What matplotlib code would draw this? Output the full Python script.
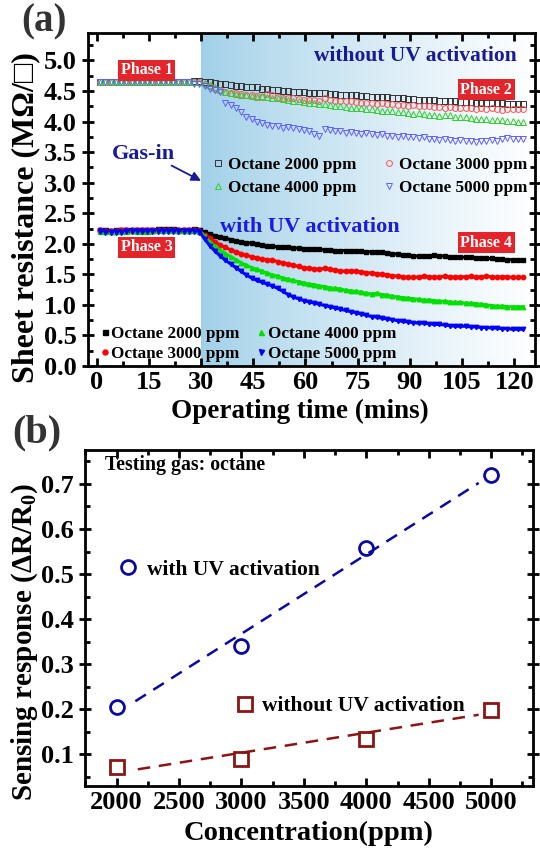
import numpy as np
import matplotlib
matplotlib.use("Agg")
from matplotlib import pyplot as plt
from matplotlib.colors import LinearSegmentedColormap
from matplotlib.lines import Line2D
from matplotlib.ticker import MultipleLocator, FormatStrFormatter

plt.rcParams['font.family'] = ['Liberation Serif', 'DejaVu Serif']
plt.rcParams['font.weight'] = 'bold'
plt.rcParams['mathtext.fontset'] = 'custom'
plt.rcParams['mathtext.rm'] = 'Liberation Serif:bold'

#
# Data
#

# (a) sheet resistance vs time, gas goes in at 30 min
time_pre = [1, 2.5, 4, 5.5, 7, 8.5, 10, 11.5, 13, 14.5,
            16, 17.5, 19, 20.5, 22, 23.5, 25, 26.5, 28, 29.5]
time_post = [31, 32.5, 34, 35.5, 37, 38.5, 40, 41.5, 43, 44.5,
             46, 47.5, 49, 50.5, 52, 53.5, 55, 56.5, 58, 59.5,
             61, 62.5, 64, 65.5, 67, 68.5, 70, 71.5, 73, 74.5,
             76, 77.5, 79, 80.5, 82, 83.5, 85, 86.5, 88, 89.5,
             91, 92.5, 94, 95.5, 97, 98.5, 100, 101.5, 103, 104.5,
             106, 107.5, 109, 110.5, 112, 113.5, 115, 116.5, 118, 119.5,
             121, 122.5]
gas_in_time = 30

# without UV activation
noUV_2000_pre = [4.65, 4.65, 4.65, 4.65, 4.65, 4.65, 4.65, 4.65, 4.65, 4.65,
                 4.65, 4.65, 4.65, 4.65, 4.65, 4.65, 4.65, 4.65, 4.66, 4.66]
noUV_2000_post = [4.65, 4.64, 4.63, 4.62, 4.61, 4.60, 4.59, 4.58, 4.57, 4.57,
                  4.56, 4.54, 4.53, 4.52, 4.51, 4.50, 4.50, 4.49, 4.48, 4.48,
                  4.47, 4.47, 4.46, 4.46, 4.45, 4.45, 4.44, 4.44, 4.43, 4.43,
                  4.42, 4.42, 4.41, 4.41, 4.40, 4.40, 4.39, 4.39, 4.38, 4.37,
                  4.37, 4.36, 4.36, 4.35, 4.35, 4.34, 4.34, 4.33, 4.33, 4.32,
                  4.32, 4.32, 4.31, 4.31, 4.31, 4.30, 4.30, 4.30, 4.29, 4.29,
                  4.29, 4.29]
noUV_3000_pre = [4.65, 4.65, 4.65, 4.65, 4.65, 4.65, 4.65, 4.65, 4.65, 4.65,
                 4.65, 4.65, 4.65, 4.65, 4.65, 4.65, 4.65, 4.65, 4.65, 4.64]
noUV_3000_post = [4.62, 4.58, 4.54, 4.51, 4.48, 4.46, 4.46, 4.45, 4.44, 4.44,
                  4.42, 4.41, 4.45, 4.43, 4.40, 4.39, 4.38, 4.38, 4.37, 4.36,
                  4.36, 4.35, 4.34, 4.38, 4.36, 4.34, 4.33, 4.33, 4.34, 4.32,
                  4.31, 4.30, 4.30, 4.29, 4.30, 4.28, 4.28, 4.27, 4.27, 4.26,
                  4.27, 4.25, 4.26, 4.25, 4.24, 4.24, 4.23, 4.24, 4.23, 4.22,
                  4.22, 4.23, 4.21, 4.22, 4.21, 4.23, 4.20, 4.19, 4.21, 4.21,
                  4.21, 4.21]
noUV_4000_pre = [4.65, 4.65, 4.65, 4.65, 4.65, 4.65, 4.65, 4.65, 4.65, 4.65,
                 4.65, 4.65, 4.65, 4.65, 4.65, 4.65, 4.65, 4.65, 4.65, 4.65]
noUV_4000_post = [4.63, 4.60, 4.56, 4.52, 4.49, 4.46, 4.45, 4.44, 4.43, 4.42,
                  4.41, 4.42, 4.40, 4.39, 4.38, 4.37, 4.35, 4.34, 4.33, 4.32,
                  4.31, 4.30, 4.29, 4.28, 4.27, 4.26, 4.25, 4.24, 4.23, 4.23,
                  4.22, 4.21, 4.20, 4.19, 4.18, 4.18, 4.17, 4.16, 4.15, 4.14,
                  4.13, 4.14, 4.12, 4.11, 4.10, 4.09, 4.11, 4.10, 4.08, 4.07,
                  4.07, 4.06, 4.05, 4.05, 4.04, 4.03, 4.03, 4.02, 4.01, 4.01,
                  4.00, 4.00]
noUV_5000_pre = [4.65, 4.65, 4.65, 4.65, 4.65, 4.65, 4.65, 4.65, 4.65, 4.65,
                 4.65, 4.65, 4.65, 4.65, 4.65, 4.65, 4.65, 4.64, 4.62, 4.61]
noUV_5000_post = [4.58, 4.54, 4.51, 4.48, 4.30, 4.27, 4.22, 4.16, 4.08, 4.04,
                  4.00, 3.97, 3.95, 3.93, 3.92, 3.90, 3.91, 3.89, 3.88, 3.87,
                  3.85, 3.79, 3.77, 3.88, 3.87, 3.85, 3.84, 3.82, 3.83, 3.81,
                  3.80, 3.81, 3.79, 3.78, 3.79, 3.77, 3.76, 3.75, 3.77, 3.75,
                  3.74, 3.73, 3.75, 3.72, 3.71, 3.70, 3.71, 3.70, 3.69, 3.70,
                  3.68, 3.69, 3.67, 3.68, 3.69, 3.70, 3.69, 3.72, 3.73, 3.72,
                  3.72, 3.72]

# with UV activation
UV_2000_pre = [2.22, 2.22, 2.21, 2.22, 2.22, 2.23, 2.22, 2.22, 2.23, 2.23,
               2.23, 2.24, 2.24, 2.24, 2.24, 2.23, 2.23, 2.23, 2.24, 2.23]
UV_2000_post = [2.19, 2.16, 2.13, 2.11, 2.09, 2.07, 2.05, 2.03, 2.02, 2.01,
                2.00, 1.98, 1.97, 1.96, 1.95, 1.95, 1.94, 1.93, 1.93, 1.92,
                1.92, 1.91, 1.91, 1.90, 1.90, 1.89, 1.89, 1.89, 1.88, 1.88,
                1.88, 1.87, 1.87, 1.86, 1.86, 1.85, 1.84, 1.83, 1.82, 1.81,
                1.80, 1.80, 1.80, 1.80, 1.81, 1.80, 1.80, 1.79, 1.79, 1.78,
                1.78, 1.78, 1.77, 1.77, 1.76, 1.76, 1.75, 1.75, 1.74, 1.74,
                1.73, 1.73]
UV_3000_pre = [2.22, 2.21, 2.21, 2.21, 2.22, 2.22, 2.22, 2.22, 2.22, 2.22,
               2.22, 2.22, 2.22, 2.22, 2.22, 2.22, 2.22, 2.22, 2.22, 2.21]
UV_3000_post = [2.15, 2.09, 2.03, 1.98, 1.94, 1.90, 1.87, 1.84, 1.81, 1.79,
                1.77, 1.75, 1.74, 1.73, 1.71, 1.69, 1.67, 1.65, 1.63, 1.61,
                1.60, 1.59, 1.58, 1.60, 1.58, 1.57, 1.56, 1.55, 1.56, 1.55,
                1.54, 1.53, 1.52, 1.51, 1.50, 1.49, 1.48, 1.47, 1.46, 1.45,
                1.45, 1.46, 1.47, 1.46, 1.45, 1.46, 1.47, 1.46, 1.45, 1.46,
                1.46, 1.47, 1.45, 1.46, 1.47, 1.46, 1.45, 1.46, 1.46, 1.45,
                1.45, 1.45]
UV_4000_pre = [2.21, 2.21, 2.21, 2.21, 2.21, 2.21, 2.22, 2.21, 2.21, 2.21,
               2.22, 2.22, 2.22, 2.22, 2.22, 2.22, 2.22, 2.22, 2.22, 2.21]
UV_4000_post = [2.12, 2.03, 1.96, 1.90, 1.84, 1.79, 1.74, 1.69, 1.65, 1.61,
                1.58, 1.55, 1.52, 1.49, 1.47, 1.44, 1.42, 1.40, 1.38, 1.36,
                1.34, 1.33, 1.31, 1.30, 1.28, 1.27, 1.26, 1.24, 1.23, 1.22,
                1.21, 1.19, 1.18, 1.19, 1.17, 1.16, 1.14, 1.13, 1.12, 1.11,
                1.10, 1.09, 1.08, 1.08, 1.07, 1.06, 1.06, 1.05, 1.04, 1.04,
                1.03, 1.03, 1.02, 1.01, 1.00, 0.99, 0.98, 0.98, 0.97, 0.97,
                0.97, 0.97]
UV_5000_pre = [2.21, 2.20, 2.20, 2.20, 2.20, 2.21, 2.21, 2.21, 2.21, 2.21,
               2.21, 2.21, 2.21, 2.21, 2.21, 2.21, 2.21, 2.21, 2.21, 2.20]
UV_5000_post = [2.08, 1.97, 1.88, 1.80, 1.73, 1.67, 1.61, 1.55, 1.49, 1.44,
                1.40, 1.37, 1.34, 1.31, 1.27, 1.22, 1.17, 1.13, 1.10, 1.07,
                1.05, 1.03, 1.01, 0.99, 0.97, 0.95, 0.93, 0.91, 0.89, 0.87,
                0.85, 0.83, 0.81, 0.80, 0.78, 0.77, 0.76, 0.74, 0.73, 0.72,
                0.71, 0.70, 0.70, 0.69, 0.68, 0.68, 0.67, 0.66, 0.65, 0.65,
                0.65, 0.64, 0.64, 0.63, 0.63, 0.62, 0.62, 0.61, 0.61, 0.60,
                0.60, 0.60]

# (b) sensing response vs concentration
conc_ppm = [2000, 3000, 4000, 5000]
resp_UV = [0.205, 0.340, 0.557, 0.720]
resp_noUV = [0.072, 0.091, 0.135, 0.198]
# end points of the dashed linear fits
fit_UV_x = [2150, 4900]
fit_UV_y = [0.218, 0.702]
fit_noUV_x = [2170, 4900]
fit_noUV_y = [0.067, 0.188]

concentrations = ["Octane 2000 ppm", "Octane 3000 ppm", "Octane 4000 ppm", "Octane 5000 ppm"]

# colours
open_colors = ["#333333", "#ff5050", "#30d030", "#6060ff"]
open_markers = ["s", "o", "^", "v"]
full_colors = ["#000000", "#ff0000", "#00e000", "#0000ff"]
full_markers = ["s", "o", "^", "v"]
navy = "#1a1a96"
phase_red = "#e3242b"
uv_blue = "#0a0aa0"
dark_red = "#8b1515"


def style_axes(ax):
    for s in ax.spines.values():
        s.set_linewidth(2.0)
    ax.tick_params(which="both", direction="in", top=True, right=True,
                   width=2.0, labelsize=19)
    ax.tick_params(which="major", length=6)
    ax.tick_params(which="minor", length=3.5)
    ax.tick_params(axis="y", which="major", direction="inout", length=9)
    for lab in ax.get_xticklabels() + ax.get_yticklabels():
        lab.set_fontweight("bold")


def phase_label(ax, x, y, text):
    ax.text(x, y, text, color="white", fontsize=11.5, fontweight="bold",
            ha="center", va="center",
            bbox=dict(boxstyle="square,pad=0.16", fc=phase_red, ec="none"))


fig = plt.figure(figsize=(5.4, 8.48), dpi=100)

# ---------------- (a) ----------------
ax1 = fig.add_axes([0.163, 0.5684, 0.828, 0.3927])
xlim_a = (-2.5, 126)
ylim_a = (0, 5.45)

# shaded gas-in region: light blue fading to white
grad = np.linspace(0, 1, 256).reshape(1, -1) ** 0.8
cmap = LinearSegmentedColormap.from_list("fade", ["#9fcfe8", "#ffffff"])
ax1.imshow(grad, cmap=cmap, extent=[gas_in_time, xlim_a[1], ylim_a[0], ylim_a[1]],
           aspect="auto", zorder=0, interpolation="bilinear")

t_all = time_pre + time_post
noUV = [(noUV_2000_pre, noUV_2000_post), (noUV_3000_pre, noUV_3000_post),
        (noUV_4000_pre, noUV_4000_post), (noUV_5000_pre, noUV_5000_post)]
UV = [(UV_2000_pre, UV_2000_post), (UV_3000_pre, UV_3000_post),
      (UV_4000_pre, UV_4000_post), (UV_5000_pre, UV_5000_post)]

for (pre, post), c, m in zip(noUV, open_colors, open_markers):
    ax1.plot(t_all, pre + post, ls="none", marker=m, ms=4.2, mfc="none",
             mec=c, mew=0.7, zorder=3)

for (pre, post), c, m in zip(UV, full_colors, full_markers):
    ax1.plot(time_pre, pre, ls="none", marker=m, ms=3.6, color=c, zorder=3)
    ax1.plot([time_pre[-1]] + time_post, [pre[-1]] + post, color=c, lw=2.2,
             marker=m, ms=3.2, zorder=3)

ax1.set_xlim(*xlim_a)
ax1.set_ylim(*ylim_a)
ax1.xaxis.set_major_locator(MultipleLocator(15))
ax1.xaxis.set_minor_locator(MultipleLocator(7.5))
ax1.yaxis.set_major_locator(MultipleLocator(0.5))
ax1.yaxis.set_minor_locator(MultipleLocator(0.25))
ax1.yaxis.set_major_formatter(FormatStrFormatter("%.1f"))
style_axes(ax1)
ax1.set_xlabel("Operating time (mins)", fontsize=19.5, fontweight="bold")
ax1.xaxis.set_label_coords(0.474, -0.10)
ax1.set_ylabel("Sheet resistance (M\u03a9/\u25a1)", fontsize=23, fontweight="bold")
ax1.yaxis.set_label_coords(-0.107, 0.447)

ax1.text(91.6, 5.08, "without UV activation", color=navy, fontsize=15.5,
         fontweight="bold", ha="center", va="center")
ax1.text(35.4, 2.27, "with UV activation", color="#1c1ce0", fontsize=16,
         fontweight="bold", ha="left", va="center")
phase_label(ax1, 14.4, 4.84, "Phase 1")
phase_label(ax1, 112, 4.52, "Phase 2")
phase_label(ax1, 14.4, 1.94, "Phase 3")
phase_label(ax1, 112, 2.02, "Phase 4")
ax1.text(13.3, 3.47, "Gas-in", color=navy, fontsize=16, fontweight="bold",
         ha="center", va="center")
ax1.annotate("", xy=(gas_in_time, 3.03), xytext=(21.5, 3.28),
             arrowprops=dict(arrowstyle="-|>", color=navy, lw=1.3,
                             mutation_scale=14, shrinkA=0, shrinkB=0))

h_open = [Line2D([], [], ls="none", marker=m, ms=4.2, mfc="none", mec=c, mew=0.7)
          for c, m in zip(open_colors, open_markers)]
# row-wise order: 2000 3000 / 4000 5000
leg1 = ax1.legend([h_open[0], h_open[2], h_open[1], h_open[3]],
                  [concentrations[0], concentrations[2], concentrations[1], concentrations[3]],
                  ncol=2, loc="upper left", bbox_to_anchor=(0.244, 0.675),
                  frameon=False, handlelength=0.6, handletextpad=0.3,
                  columnspacing=1.6, labelspacing=0.45,
                  prop=dict(family="Liberation Serif", weight="bold", size=12.3))
ax1.add_artist(leg1)
h_full = [Line2D([], [], ls="none", marker=m, ms=3.6, color=c)
          for c, m in zip(full_colors, full_markers)]
ax1.legend(h_full, concentrations, ncol=2, loc="upper left",
           bbox_to_anchor=(-0.007, 0.165), frameon=False, handlelength=0.5,
           handletextpad=0.15, columnspacing=1.0, labelspacing=0.2,
           prop=dict(family="Liberation Serif", weight="bold", size=12.3))

fig.text(0.04, 0.974, "(a)", fontsize=28, fontweight="bold", color="#333333",
         ha="left", va="center")

# ---------------- (b) ----------------
ax2 = fig.add_axes([0.157, 0.0731, 0.83, 0.3962])
ax2.plot(fit_UV_x, fit_UV_y, ls=(0, (5, 3.5)), color=uv_blue, lw=1.8, zorder=2)
ax2.plot(fit_noUV_x, fit_noUV_y, ls=(0, (5, 3.5)), color=dark_red, lw=1.8, zorder=2)
ax2.plot(conc_ppm, resp_UV, ls="none", marker="o", ms=10, mfc="none",
         mec=uv_blue, mew=2.0, zorder=3)
ax2.plot(conc_ppm, resp_noUV, ls="none", marker="s", ms=9.5, mfc="none",
         mec=dark_red, mew=2.0, zorder=3)

ax2.set_xlim(1745, 5335)
ax2.set_ylim(0.03, 0.775)
ax2.xaxis.set_major_locator(MultipleLocator(500))
ax2.xaxis.set_minor_locator(MultipleLocator(250))
ax2.yaxis.set_major_locator(MultipleLocator(0.1))
ax2.yaxis.set_minor_locator(MultipleLocator(0.05))
ax2.yaxis.set_major_formatter(FormatStrFormatter("%.1f"))
style_axes(ax2)
ax2.set_xlabel("Concentration(ppm)", fontsize=20.5, fontweight="bold")
ax2.xaxis.set_label_coords(0.5, -0.105)
ax2.set_ylabel("Sensing response ($\\Delta$R/R$_0$)", fontsize=21, fontweight="bold")
ax2.yaxis.set_label_coords(-0.10, 0.43)

ax2.text(0.045, 0.955, "Testing gas: octane", transform=ax2.transAxes,
         fontsize=14.3, fontweight="bold", ha="left", va="center")
leg_uv = ax2.legend([Line2D([], [], ls="none", marker="o", ms=10, mfc="none", mec=uv_blue, mew=2.0)],
                    ["with UV activation"], loc="center left", bbox_to_anchor=(0.036, 0.643),
                    frameon=False, handlelength=0.7, handletextpad=0.55,
                    prop=dict(family="Liberation Serif", weight="bold", size=15.5))
ax2.add_artist(leg_uv)
ax2.legend([Line2D([], [], ls="none", marker="s", ms=9.5, mfc="none", mec=dark_red, mew=2.0)],
           ["without UV activation"], loc="center left", bbox_to_anchor=(0.297, 0.238),
           frameon=False, handlelength=0.7, handletextpad=0.45,
           prop=dict(family="Liberation Serif", weight="bold", size=15.5))

fig.text(0.022, 0.489, "(b)", fontsize=29, fontweight="bold", color="#333333",
         ha="left", va="center")

plt.savefig("out.png", dpi=100)
plt.close()
